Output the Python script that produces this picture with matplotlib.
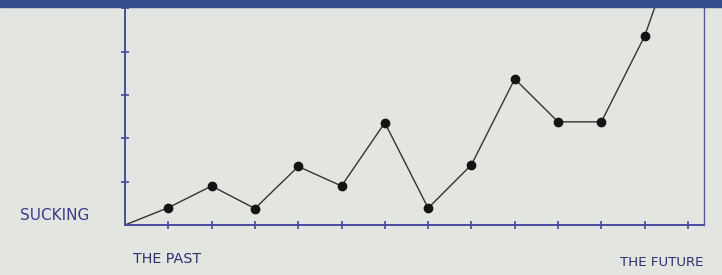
import matplotlib.pyplot as plt
from matplotlib.patches import Rectangle

# time steps from "the past" to "the future"
steps = [0, 1, 2, 3, 4, 5, 6, 7, 8, 9, 10, 11, 12, 13]
suckiness = [0, 0.4, 0.9, 0.38, 1.35, 0.9, 2.36, 0.39, 1.39, 3.37, 2.38, 2.38, 4.36, 7.2]
xticks = [1, 2, 3, 4, 5, 6, 7, 8, 9, 10, 11, 12, 13]
yticks = [1, 2, 3, 4, 5]

ink = '#4a4aa0'
bg = '#e3e5e1'

fig = plt.figure(figsize=(7.22, 2.75), dpi=100)
fig.patch.set_facecolor(bg)
ax = fig.add_axes([125 / 722, 50 / 275, 579 / 722, 218 / 275])
ax.set_facecolor(bg)

ax.plot(steps, suckiness, color='#333333', lw=1.0)
ax.plot(steps[1:], suckiness[1:], 'o', color='#141414', ms=6)

ax.set_xlim(0, 13.37)
ax.set_ylim(0, 5.03)
ax.set_xticks(xticks)
ax.set_yticks(yticks)
ax.set_xticklabels([])
ax.set_yticklabels([])
ax.tick_params(direction='inout', length=6, width=1.2, color=ink)
ax.spines['top'].set_visible(False)
for s in ['left', 'bottom', 'right']:
    ax.spines[s].set_color(ink)
    ax.spines[s].set_linewidth(1.4)
ax.spines['right'].set_color('#5a5a90')
ax.spines['right'].set_linewidth(1.0)

fig.text(20 / 722, 1 - 215 / 275, 'SUCKING', color='#3b3b8c', fontsize=11, va='center')
fig.text(133 / 722, 1 - 259 / 275, 'THE PAST', color='#2f2f70', fontsize=10.3, va='center')
fig.text(620 / 722, 1 - 262 / 275, 'THE FUTURE', color='#2f2f70', fontsize=9.6, va='center')

# blue band across the top
fig.patches.append(Rectangle((0, 1 - 7 / 275), 1, 7 / 275, transform=fig.transFigure,
                             color='#34508c', zorder=10))

fig.savefig('out.png', dpi=100, facecolor=bg)
